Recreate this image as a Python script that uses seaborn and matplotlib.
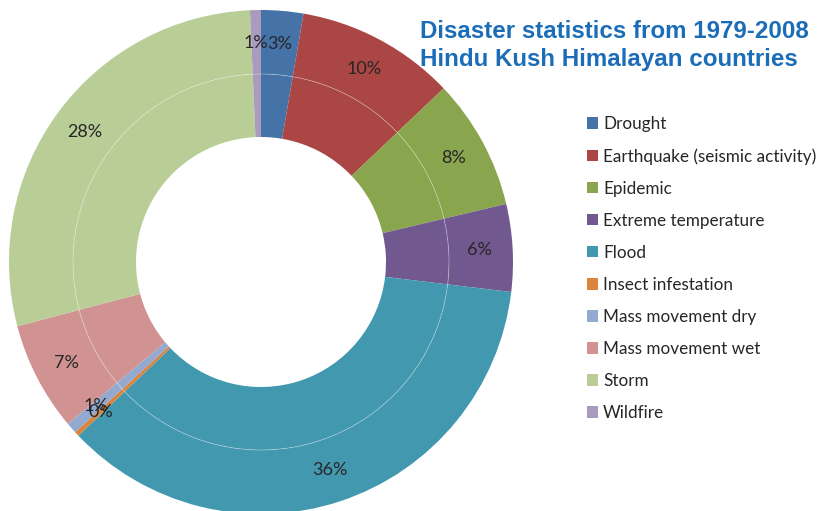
import matplotlib
matplotlib.use("Agg")
import matplotlib.pyplot as plt
import seaborn as sns
from matplotlib.patches import Circle, Patch

categories = ["Drought", "Earthquake (seismic activity)", "Epidemic", "Extreme temperature",
              "Flood", "Insect infestation", "Mass movement dry", "Mass movement wet",
              "Storm", "Wildfire"]
values = [2.7, 10.2, 8.4, 5.6, 36.0, 0.3, 0.7, 7.0, 28.4, 0.7]
colors = ["#4572A7", "#AA4643", "#89A54E", "#71588F", "#4198AF",
          "#DB843D", "#93A9CF", "#D19392", "#B9CD96", "#A99BBD"]
title_lines = ["Disaster statistics from 1979-2008", "Hindu Kush Himalayan countries"]

sns.set_theme(style="white")
palette = sns.color_palette(colors)
plt.rcParams['font.family'] = ['Lato', 'DejaVu Sans']

W, H = 819, 511
fig = plt.figure(figsize=(W / 100, H / 100), dpi=100)
fig.patch.set_facecolor("white")

cx, cy, R = 261, 262, 252
ax = fig.add_axes([(cx - R) / W, (H - cy - R) / H, 2 * R / W, 2 * R / H])

r_mid = 188 / R
r_in = 125 / R

# outer ring with labels
ax.pie(values, colors=palette, startangle=90, counterclock=False,
       radius=1.0, wedgeprops=dict(width=1.0 - r_mid, linewidth=0),
       autopct=lambda p: f"{p:.0f}%", pctdistance=0.87,
       textprops=dict(fontsize=13, color="#262626"))
# inner ring
ax.pie(values, colors=palette, startangle=90, counterclock=False,
       radius=r_mid, wedgeprops=dict(width=r_mid - r_in, linewidth=0))
ax.add_patch(Circle((0, 0), r_mid, fill=False, edgecolor="white", alpha=0.35, linewidth=0.6))
ax.set_xlim(-1, 1)
ax.set_ylim(-1, 1)
ax.set_aspect("auto")
ax.axis("off")

# title
fig.text(420 / W, 1 - 31 / H, title_lines[0], fontsize=17.4, fontweight="bold",
         color="#1A6DB6", family="Liberation Sans", va="center", ha="left")
fig.text(420 / W, 1 - 59 / H, title_lines[1], fontsize=17.4, fontweight="bold",
         color="#1A6DB6", family="Liberation Sans", va="center", ha="left")

# legend
handles = [Patch(facecolor=c, edgecolor="none") for c in palette]
leg = fig.legend(handles, categories, loc="upper left", bbox_to_anchor=(587 / W, 1 - 116 / H),
                 frameon=False, fontsize=12.3, handlelength=0.65, handleheight=0.65,
                 handletextpad=0.3, labelspacing=0.94, borderaxespad=0, borderpad=0)
for t in leg.get_texts():
    t.set_color("#262626")

fig.savefig("out.png", dpi=100)
